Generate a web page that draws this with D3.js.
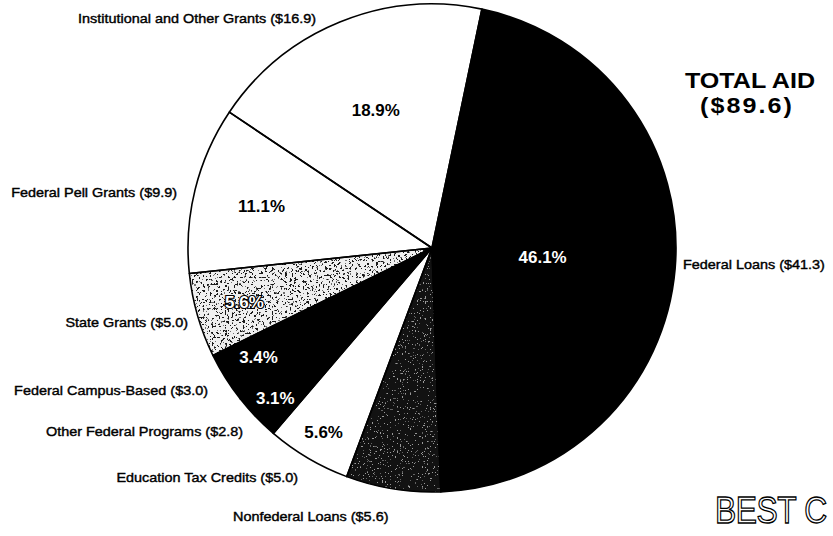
<!DOCTYPE html>
<html>
<head>
<meta charset="utf-8">
<script src="https://cdn.jsdelivr.net/npm/d3@7"></script>
<style>
  html, body { margin: 0; padding: 0; background: #fff; overflow: hidden; }
  svg { display: block; }
  text { font-family: "Liberation Sans", Arial, Helvetica, sans-serif; }
</style>
</head>
<body>
<svg id="chart" width="833" height="536"></svg>
<script>
// Sources of student aid, in billions of dollars
const categories = [
  "Federal Loans",
  "Nonfederal Loans",
  "Education Tax Credits",
  "Other Federal Programs",
  "Federal Campus-Based",
  "State Grants",
  "Federal Pell Grants",
  "Institutional and Other Grants"
];
const amounts = [41.3, 5.6, 5.0, 2.8, 3.0, 5.0, 9.9, 16.9];
const shareLabels = ["46.1%", "", "5.6%", "3.1%", "3.4%", "5.6%", "11.1%", "18.9%"];
const totalAid = 89.6;

const W = 833, H = 536;
const cx = 432, cy = 248, R = 244;
const startDeg = 11.8;

// slice styling, in the same order as the categories
const fills    = ["#000", "#121212", "#fff", "#000", "#000", "#efefef", "#fff", "#fff"];
const grains   = [null, "grainDark", null, null, null, "grainLight", null, null];
const pctColor = ["#fff", "#fff", "#000", "#fff", "#fff", "#fff", "#000", "#000"];
const pctHalo  = [false, false, false, false, false, true, false, false];
const pctRadius = [0.455, 0.7, 0.875, 0.89, 0.84, 0.80, 0.72, 0.61];

// outside category labels: [anchor, x, baseline]
const nameLayout = [
  ["start", 683, 269],
  ["start", 233, 521],
  ["end",   298, 482],
  ["end",   243, 436],
  ["end",   208, 395],
  ["end",   188, 327],
  ["end",   177, 197],
  ["middle", 197, 23]
];

const svg = d3.select("#chart");
const defs = svg.append("defs");

// speckled print textures
function grainFilter(id, speckColor, freq, seed, gain, offset, table) {
  const f = defs.append("filter").attr("id", id)
    .attr("x", 0).attr("y", 0).attr("width", 1).attr("height", 1)
    .attr("color-interpolation-filters", "sRGB");
  f.append("feTurbulence").attr("type", "fractalNoise")
    .attr("baseFrequency", freq).attr("numOctaves", 3).attr("seed", seed).attr("result", "n");
  const c = d3.color(speckColor);
  const r = c.r / 255, g = c.g / 255, b = c.b / 255;
  f.append("feColorMatrix").attr("in", "n").attr("type", "matrix")
    .attr("values", `0 0 0 0 ${r}  0 0 0 0 ${g}  0 0 0 0 ${b}  ${gain} 0 0 0 ${offset}`)
    .attr("result", "a");
  const ct = f.append("feComponentTransfer").attr("in", "a").attr("result", "t");
  ct.append("feFuncA").attr("type", "discrete").attr("tableValues", table);
  f.append("feComposite").attr("in", "t").attr("in2", "SourceGraphic")
    .attr("operator", "in").attr("result", "specks");
  const m = f.append("feMerge");
  m.append("feMergeNode").attr("in", "SourceGraphic");
  m.append("feMergeNode").attr("in", "specks");
}
grainFilter("grainLight", "#1a1a1a", 0.45, 4, 3.4, -1.35, "0 0 0 0 0 0 0 0.6 1 1");
grainFilter("grainDark", "#9a9a9a", 0.6, 9, 3.4, -1.5, "0 0 0 0 0 0 0 0 0.6 1");

const pie = d3.pie()
  .sort(null)
  .value(d => d)
  .startAngle(startDeg * Math.PI / 180)
  .endAngle(startDeg * Math.PI / 180 + 2 * Math.PI);

const arcs = pie(amounts);
const arc = d3.arc().innerRadius(0).outerRadius(R);

const g = svg.append("g").attr("transform", `translate(${cx},${cy})`);

// slice fills
g.selectAll("path.fill")
  .data(arcs)
  .join("path")
  .attr("class", "fill")
  .attr("d", arc)
  .attr("fill", d => fills[d.index])
  .attr("filter", d => grains[d.index] ? `url(#${grains[d.index]})` : null);

// slice outlines
g.selectAll("path.edge")
  .data(arcs)
  .join("path")
  .attr("class", "edge")
  .attr("d", arc)
  .attr("fill", "none")
  .attr("stroke", "#000")
  .attr("stroke-width", 1.6)
  .attr("stroke-linejoin", "round");

// percentage labels inside the slices
g.selectAll("text.pct")
  .data(arcs.filter(d => shareLabels[d.index] !== ""))
  .join("text")
  .attr("class", "pct")
  .attr("transform", d => {
    const rr = R * pctRadius[d.index];
    const [x, y] = d3.arc().innerRadius(rr).outerRadius(rr).centroid(d);
    return `translate(${x},${y}) scale(1.06,1)`;
  })
  .attr("text-anchor", "middle")
  .attr("dy", "0.36em")
  .attr("font-size", 16)
  .attr("font-weight", "bold")
  .attr("fill", d => pctColor[d.index])
  .attr("stroke", d => pctHalo[d.index] ? "#000" : "none")
  .attr("stroke-width", d => pctHalo[d.index] ? 2.2 : 0)
  .attr("paint-order", "stroke")
  .text(d => shareLabels[d.index]);

// category names with dollar amounts
svg.selectAll("text.name")
  .data(categories)
  .join("text")
  .attr("class", "name")
  .attr("transform", (d, i) => `translate(${nameLayout[i][1]},${nameLayout[i][2]}) scale(1.11,1)`)
  .attr("text-anchor", (d, i) => nameLayout[i][0])
  .attr("font-size", 13)
  .attr("fill", "#000")
  .attr("stroke", "#000")
  .attr("stroke-width", 0.4)
  .text((d, i) => `${d} ($${amounts[i].toFixed(1)})`);

// total heading
const total = svg.append("g").attr("transform", "translate(750,0)");
total.append("text")
  .attr("transform", "translate(0,88) scale(1.14,1)")
  .attr("text-anchor", "middle")
  .attr("font-size", 22)
  .attr("font-weight", "bold")
  .text("TOTAL AID");
total.append("text")
  .attr("transform", "translate(-3,113) scale(1.14,1)")
  .attr("text-anchor", "middle")
  .attr("font-size", 22)
  .attr("font-weight", "bold")
  .attr("letter-spacing", 1.8)
  .text(`($${totalAid.toFixed(1)})`);

// hollow stamp in the lower right corner
svg.append("text")
  .attr("transform", "translate(715,523) scale(0.86,1)")
  .attr("font-size", 37)
  .attr("fill", "#fff")
  .attr("stroke", "#000")
  .attr("stroke-width", 1.3)
  .attr("letter-spacing", -0.5)
  .text("BEST C");
</script>
</body>
</html>
